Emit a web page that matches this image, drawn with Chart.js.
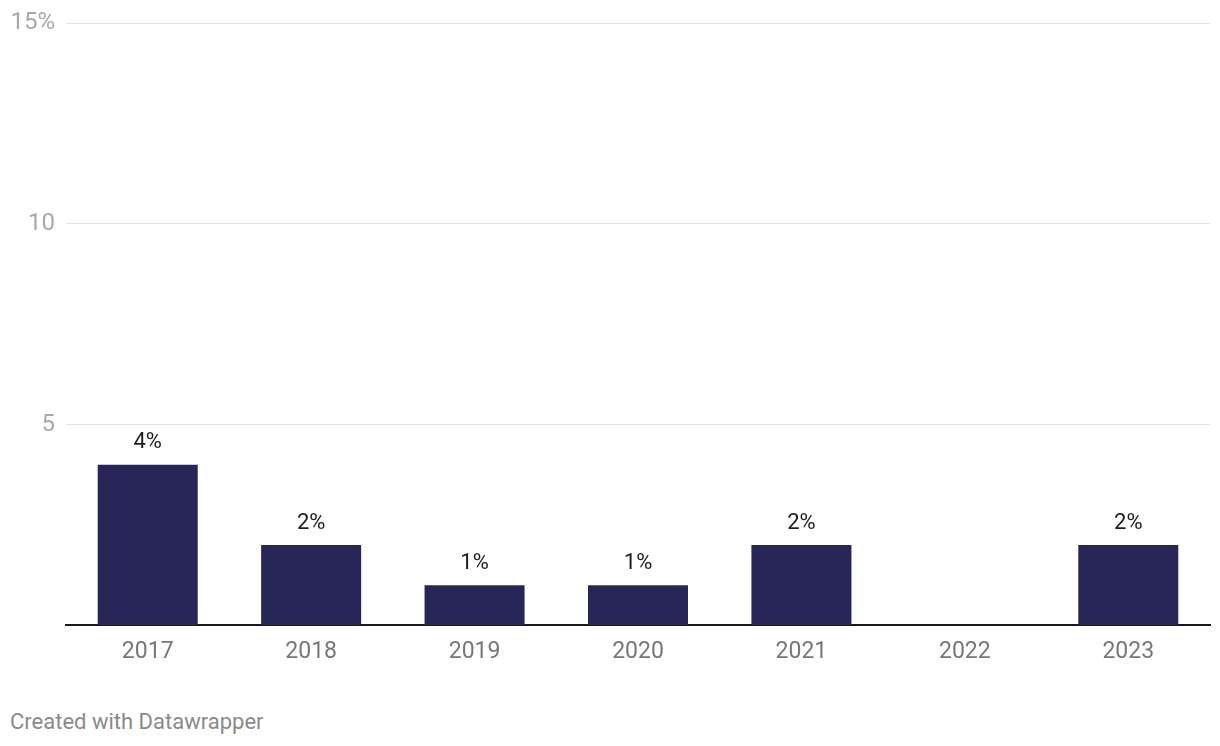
<!DOCTYPE html>
<html>
<head>
<meta charset="utf-8">
<script src="https://cdn.jsdelivr.net/npm/chart.js@4"></script>
<style>
    html, body { margin: 0; padding: 0; background: #fff; }
    .chart-wrap { position: relative; width: 1220px; height: 671px; }
    .footer {
        position: absolute; left: 10px; top: 709px;
        font-family: Roboto, sans-serif; font-size: 22px; color: #8a8a8a;
    }
</style>
</head>
<body>
<div class="chart-wrap"><canvas id="barChart"></canvas></div>
<div class="footer">Created with Datawrapper</div>
<script>
// Chart data
const years = ['2017', '2018', '2019', '2020', '2021', '2022', '2023'];
const shares = [4, 2, 1, 1, 2, 0, 2];
const yTicks = [0, 5, 10, 15];

// Draw the "n%" labels above each bar
const barLabels = {
    id: 'barLabels',
    afterDatasetsDraw(chart) {
        const ctx = chart.ctx;
        const meta = chart.getDatasetMeta(0);
        ctx.save();
        ctx.font = '22px Roboto';
        ctx.fillStyle = '#1d1d1d';
        ctx.textAlign = 'center';
        ctx.textBaseline = 'bottom';
        meta.data.forEach((bar, i) => {
            if (!shares[i]) return;
            ctx.fillText(shares[i] + '%', bar.x, bar.y - 11);
        });
        ctx.restore();
    }
};

document.addEventListener('DOMContentLoaded', function() {
    const ctx = document.getElementById('barChart').getContext('2d');
    new Chart(ctx, {
        type: 'bar',
        data: {
            labels: years,
            datasets: [{
                data: shares,
                backgroundColor: '#262756',
                categoryPercentage: 1,
                barPercentage: 0.612
            }]
        },
        options: {
            responsive: true,
            maintainAspectRatio: false,
            animation: false,
            layout: { padding: { left: 10, right: 10, top: 23, bottom: 0 } },
            plugins: {
                legend: { display: false },
                tooltip: { enabled: false }
            },
            scales: {
                x: {
                    grid: { display: false },
                    border: { color: '#1a1a1a', width: 2 },
                    ticks: {
                        color: '#777',
                        font: { family: 'Roboto', size: 23 },
                        padding: 5
                    }
                },
                y: {
                    min: 0,
                    max: 15,
                    afterBuildTicks: axis => {
                        axis.ticks = yTicks.map(v => ({ value: v }));
                    },
                    border: { display: false },
                    grid: {
                        color: c => c.tick.value === 0 ? 'rgba(0,0,0,0)' : '#e3e3e3',
                        lineWidth: 1,
                        drawTicks: false,
                        tickLength: 0
                    },
                    afterFit: axis => { axis.width = 56; },
                    ticks: {
                        color: '#a8a8a8',
                        font: { family: 'Roboto', size: 24, lineHeight: 1 },
                        padding: 11,
                        callback: v => v === 0 ? '' : (v === 15 ? v + '%' : v)
                    }
                }
            }
        },
        plugins: [barLabels]
    });
});
</script>
</body>
</html>
